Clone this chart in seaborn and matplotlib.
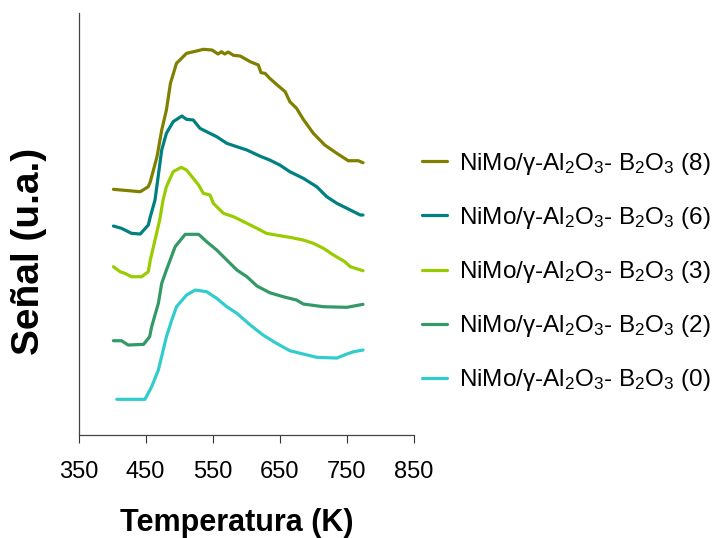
import matplotlib
matplotlib.use("Agg")
import matplotlib.pyplot as plt
import seaborn as sns
import pandas as pd

sns.set_theme(style="white")
plt.rcParams["font.family"] = ["Liberation Sans", "DejaVu Sans"]
plt.rcParams["mathtext.fontset"] = "custom"
plt.rcParams["mathtext.rm"] = "Liberation Sans"
plt.rcParams["mathtext.default"] = "regular"
plt.rcParams["text.color"] = "black"
plt.rcParams["axes.labelcolor"] = "black"
plt.rcParams["xtick.color"] = "black"

# TPR profiles (offset vertically, arbitrary units)
t_b8 = [402, 442, 454, 457, 467, 474, 481, 487, 496, 511, 526, 536, 549, 558, 563, 568,
        573, 581, 591, 606, 618, 622, 628, 635, 648, 658, 665, 675, 685, 700, 717, 735,
        752, 767, 774]
s_b8 = [245.7, 243.3, 248.3, 253.3, 278.3, 305, 325, 351.7, 371.7, 381.7, 384, 385.7,
        385, 381, 383.3, 381, 383, 379.7, 379, 373.3, 370, 362.3, 361.7, 356.7, 349,
        343.3, 333.3, 326.7, 315.7, 301.7, 290, 281.7, 274.3, 274.3, 272.3]

t_b6 = [402, 414, 429, 442, 454, 457, 464, 474, 481, 491, 504, 511, 521, 531, 541, 556,
        571, 586, 601, 620, 635, 650, 665, 685, 705, 720, 735, 750, 770, 774]
s_b6 = [209, 206.7, 201.7, 201, 210, 218.3, 235, 285, 301.7, 313.3, 319, 315.7, 315,
        306.7, 303.3, 298.3, 291.7, 288.3, 285, 279, 275, 270, 263.3, 256.7, 248.3,
        238.3, 231.7, 226.7, 220, 220]

t_b3 = [402, 412, 419, 429, 444, 454, 457, 464, 471, 476, 481, 491, 503, 511, 521, 529,
        536, 546, 551, 556, 566, 581, 601, 616, 630, 650, 665, 685, 700, 715, 730, 747,
        755, 774]
s_b3 = [168.3, 163.3, 161.7, 158.3, 158.3, 163.3, 175, 195, 215, 235, 248.3, 263.3,
        267.7, 265, 256.7, 250, 241.7, 240, 231.7, 228.3, 221.7, 218.3, 211.7, 206.7,
        201.7, 199.3, 197.7, 195, 191.7, 186.7, 180, 173.3, 168.3, 164.3]

t_b2 = [402, 414, 424, 447, 456, 459, 469, 474, 481, 494, 509, 529, 541, 556, 571, 586,
        601, 616, 635, 655, 675, 685, 715, 750, 774]
s_b2 = [94.3, 94.3, 90, 90.7, 98.3, 108.3, 131.7, 151.7, 165, 188.3, 200.7, 200.7,
        193.3, 185, 175, 165, 158.3, 149, 142.3, 138.3, 135, 131, 128.3, 127.7, 130.7]

t_b0 = [407, 449, 459, 469, 481, 489, 496, 511, 524, 541, 556, 571, 586, 606, 625, 645,
        665, 685, 705, 735, 750, 760, 774]
s_b0 = [35.7, 35.7, 48.3, 65, 98.3, 115, 128.3, 140, 145, 143.3, 136.7, 128.3, 121.7,
        110, 100, 91.7, 84.3, 81, 77.7, 77, 81, 83.3, 85]

labels = [
    "NiMo/γ-Al$_2$O$_3$- B$_2$O$_3$ (8)",
    "NiMo/γ-Al$_2$O$_3$- B$_2$O$_3$ (6)",
    "NiMo/γ-Al$_2$O$_3$- B$_2$O$_3$ (3)",
    "NiMo/γ-Al$_2$O$_3$- B$_2$O$_3$ (2)",
    "NiMo/γ-Al$_2$O$_3$- B$_2$O$_3$ (0)",
]
colors = ["#808000", "#008080", "#99CC00", "#339966", "#33CCCC"]
x_ticks = [350, 450, 550, 650, 750, 850]

series = [(t_b8, s_b8), (t_b6, s_b6), (t_b3, s_b3), (t_b2, s_b2), (t_b0, s_b0)]
frames = []
for lab, (t, s) in zip(labels, series):
    frames.append(pd.DataFrame({"T": t, "S": s, "muestra": lab}))
df = pd.concat(frames, ignore_index=True)

fig = plt.figure(figsize=(7.23, 5.38), dpi=100)
ax = fig.add_axes([0.1086, 0.1914, 0.4640, 0.7844])

sns.lineplot(data=df, x="T", y="S", hue="muestra", hue_order=labels,
             palette=colors, linewidth=2.3, estimator=None, sort=False, ax=ax,
             legend=True)

ax.set_xlim(350, 850)
ax.set_ylim(0, 422)
ax.set_xticks(x_ticks)
ax.set_xticklabels([str(v) for v in x_ticks],
                   family=["Liberation Sans Narrow", "Liberation Sans"], fontsize=17)
ax.set_yticks([])
ax.tick_params(axis="x", direction="out", length=6, width=0.8, color="#333333",
               pad=13, bottom=True)
for side in ["top", "right"]:
    ax.spines[side].set_visible(False)
for side in ["left", "bottom"]:
    ax.spines[side].set_color("#444444")
    ax.spines[side].set_linewidth(0.9)

ax.set_xlabel("Temperatura (K)", fontsize=22, fontweight="bold")
ax.set_ylabel("Señal (u.a.)", fontsize=28, fontweight="bold")
ax.xaxis.set_label_coords(0.472, -0.174)
ax.yaxis.set_label_coords(-0.095, 0.434)

handles, labs = ax.get_legend_handles_labels()
ax.get_legend().remove()
fig.legend(handles, labs, loc="upper left", bbox_to_anchor=(0.5837, 0.720),
           frameon=False, fontsize=17.5, handlelength=1.03, handletextpad=0.5,
           labelspacing=1.16, borderaxespad=0, borderpad=0)

fig.savefig("out.png", dpi=100, facecolor="white")
